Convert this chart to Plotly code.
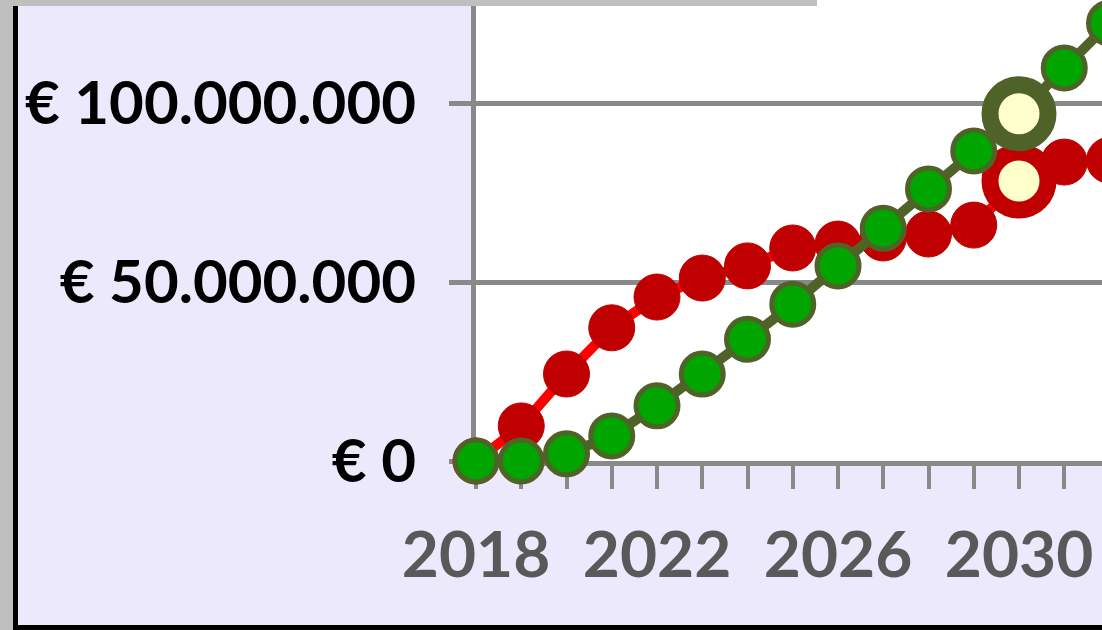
import plotly.graph_objects as go

# ---- data ----
years = list(range(2018, 2033))
red_values = [0, 9.8e6, 24.3e6, 37.2e6, 45.8e6, 51.1e6, 54.5e6, 59.5e6, 60.6e6,
              62.3e6, 63.4e6, 65.9e6, 78.2e6, 83.5e6, 84.0e6]
green_values = [0, 0, 2.0e6, 7.0e6, 15.4e6, 24.3e6, 34.0e6, 43.8e6, 54.5e6,
                65.0e6, 76.0e6, 86.6e6, 97.0e6, 109.8e6, 122.3e6]
highlight_year = 2030
x_label_years = [2018, 2022, 2026, 2030]
y_tick_values = [0, 50e6, 100e6]
y_tick_labels = ["€ 0", "€ 50.000.000", "€ 100.000.000"]

# ---- styles ----
W, H = 1180, 630          # figure is wider than the 1102px window; overflow is cropped
LAV = "#ECE9FC"
GRID = "#898989"
RED_LINE = "#FF0000"
RED_MK = "#C00000"
GREEN_MK = "#00A500"
OLIVE = "#4F6228"
HL_FILL = "#FFFFCC"
FONT = "Lato"


def marker_style(fill, edge, base_size, base_lw):
    sizes, fills, lws = [], [], []
    for y in years:
        if y == highlight_year:
            sizes.append(58)
            fills.append(HL_FILL)
            lws.append(17)
        else:
            sizes.append(base_size)
            fills.append(fill)
            lws.append(base_lw)
    return dict(size=sizes, color=fills, line=dict(color=edge, width=lws), opacity=1)


fig = go.Figure()
fig.add_trace(go.Scatter(
    x=years, y=red_values, mode="lines+markers", name="Rood",
    line=dict(color=RED_LINE, width=10),
    marker=marker_style(RED_MK, RED_MK, 46, 1),
    cliponaxis=False, showlegend=False,
))
fig.add_trace(go.Scatter(
    x=years, y=green_values, mode="lines+markers", name="Groen",
    line=dict(color=OLIVE, width=10),
    marker=marker_style(GREEN_MK, OLIVE, 42, 5),
    cliponaxis=False, showlegend=False,
))

# pixel geometry
left, bottom_px = 476, 461
px_per_year = 45.25
px_per_50m = 179.0
x_end = years[0] + (W - left) / px_per_year
y_top = bottom_px / px_per_50m * 50e6

fig.update_layout(
    width=W, height=H,
    margin=dict(l=left, r=0, t=0, b=H - bottom_px, pad=0),
    paper_bgcolor=LAV, plot_bgcolor="white",
    showlegend=False,
    xaxis=dict(
        range=[years[0], x_end], tickmode="array",
        tickvals=years,
        ticktext=[str(y) if y in x_label_years else "" for y in years],
        ticks="outside", ticklen=23, tickwidth=4, tickcolor=GRID,
        showline=True, linecolor=GRID, linewidth=5,
        showgrid=False, zeroline=False, layer="below traces",
        tickfont=dict(family=FONT, size=64, color="#595959", weight="bold"),
        ticklabelstandoff=11,
    ),
    yaxis=dict(
        range=[0, y_top], tickmode="array",
        tickvals=y_tick_values, ticktext=y_tick_labels,
        ticks="outside", ticklen=22, tickwidth=5, tickcolor=GRID,
        showline=True, linecolor=GRID, linewidth=5,
        showgrid=True, gridcolor=GRID, gridwidth=5,
        zeroline=False, layer="below traces",
        tickfont=dict(family=FONT, size=60, color="black", weight="bold"),
        ticklabelstandoff=21,
    ),
)


def px_rect(x0, y0, x1, y1, color):
    fig.add_shape(type="rect", xref="paper", yref="paper",
                  x0=(x0 - left) / (W - left), x1=(x1 - left) / (W - left),
                  y0=(bottom_px - y1) / bottom_px, y1=(bottom_px - y0) / bottom_px,
                  fillcolor=color, line=dict(width=0), layer="above")


px_rect(0, 0, 13, H, "#BFBFBF")
px_rect(0, 0, 817, 6, "#BFBFBF")
px_rect(13, 6, 18, H, "black")
px_rect(13, 625, W, H, "black")

fig.write_html("out.html",
               config={"displayModeBar": False},
               post_script="document.body.style.margin='0';document.body.style.overflow='hidden';")
